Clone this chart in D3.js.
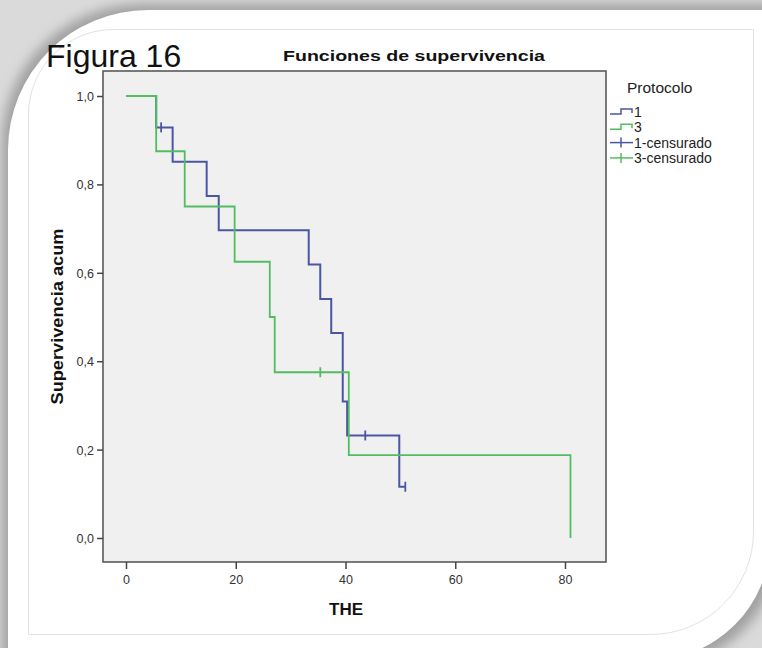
<!DOCTYPE html>
<html><head><meta charset="utf-8">
<script src="https://cdn.jsdelivr.net/npm/d3@7"></script>
<style>html,body{margin:0;padding:0;background:#fff;}svg{display:block;font-family:"Liberation Sans",Arial,sans-serif;}</style>
</head><body>
<script>
// ---- data ----
const xTickValues = [0, 20, 40, 60, 80];
const yTickValues = [0, 0.2, 0.4, 0.6, 0.8, 1.0];
const yTickLabels = ["0,0", "0,2", "0,4", "0,6", "0,8", "1,0"];

const p1Times = [0, 5.5, 8.5, 14.7, 16.9, 33.3, 35.4, 37.4, 39.5, 40.3, 49.8];
const p1Surv  = [1.0, 0.929, 0.851, 0.774, 0.696, 0.619, 0.541, 0.464, 0.309, 0.232, 0.116];
const p1End = 50.9;
const p1CensorTimes = [6.4, 43.6, 50.9];
const p1CensorSurv  = [0.929, 0.232, 0.116];

const p3Times = [0, 5.5, 10.7, 19.8, 26.2, 27.1, 40.6, 81];
const p3Surv  = [1.0, 0.875, 0.75, 0.625, 0.5, 0.375, 0.1875, 0.0];
const p3End = 81;
const p3CensorTimes = [35.4];
const p3CensorSurv  = [0.375];

const legendLabels = ["1", "3", "1-censurado", "3-censurado"];
const blue = "#4b56a3", green = "#52bd60";

const W = 762, H = 648;
const svg = d3.select("body").append("svg").attr("width", W).attr("height", H);
const defs = svg.append("defs");
const f = defs.append("filter").attr("id","sh").attr("x","-10%").attr("y","-10%").attr("width","120%").attr("height","120%");
f.append("feGaussianBlur").attr("stdDeviation", 6);

function cardPath(l, t, r, b, rtl, rbr) {
  return `M${l},${t+rtl} A${rtl},${rtl} 0 0 1 ${l+rtl},${t} L${r},${t} L${r},${b-rbr} A${rbr},${rbr} 0 0 1 ${r-rbr},${b} L${l},${b} Z`;
}
svg.append("rect").attr("width", W).attr("height", H).attr("fill", "#dadada");
svg.append("path").attr("d", cardPath(2, 4, 778, 666, 140, 120)).attr("fill", "#a0a0a0").attr("filter","url(#sh)");
svg.append("path").attr("d", cardPath(8, 10, 770, 660, 140, 120)).attr("fill", "#ffffff");
svg.append("path").attr("d", cardPath(28.5, 29.5, 753.5, 634.5, 85, 103)).attr("fill", "none").attr("stroke", "#e2e2e2");

// plot
const L = 103, T = 71, R = 606, B = 562;
const x = d3.scaleLinear().domain([0, 80]).range([126, 565]);
const y = d3.scaleLinear().domain([0, 1]).range([538, 96]);

svg.append("rect").attr("x", L).attr("y", T).attr("width", R-L).attr("height", B-T)
  .attr("fill", "#f0f0f0").attr("stroke", "#5a5a5a").attr("stroke-width", 1.6);

const yAxis = svg.append("g").attr("transform", `translate(${L},0)`)
  .call(d3.axisLeft(y).tickValues(yTickValues).tickSize(6).tickFormat((d,i)=>yTickLabels[i]));
const xAxis = svg.append("g").attr("transform", `translate(0,${B})`)
  .call(d3.axisBottom(x).tickValues(xTickValues).tickSize(7).tickFormat(d3.format("d")));
[yAxis, xAxis].forEach(g => {
  g.select(".domain").remove();
  g.selectAll("line").attr("stroke", "#444").attr("stroke-width", 1.5);
  g.selectAll("text").attr("fill", "#333").style("font-size", "12.5px").style("font-family", "'Liberation Sans',Arial,sans-serif");
});
yAxis.selectAll("text").attr("x", -9).attr("dy", "0.36em");
xAxis.selectAll("text").attr("y", 13);

function stepData(times, surv, end) {
  const pts = times.map((t, i) => [t, surv[i]]);
  if (end > times[times.length-1]) pts.push([end, surv[surv.length-1]]);
  return pts;
}
const line = d3.line().x(d => x(d[0])).y(d => y(d[1])).curve(d3.curveStepAfter);
svg.append("path").attr("d", line(stepData(p1Times, p1Surv, p1End)))
  .attr("fill", "none").attr("stroke", blue).attr("stroke-width", 2);
svg.append("path").attr("d", line(stepData(p3Times, p3Surv, p3End)))
  .attr("fill", "none").attr("stroke", green).attr("stroke-width", 1.8);

function censor(times, surv, color) {
  svg.append("g").selectAll("line").data(times).join("line")
    .attr("x1", d => x(d)).attr("x2", d => x(d))
    .attr("y1", (d, i) => y(surv[i]) - 5).attr("y2", (d, i) => y(surv[i]) + 5)
    .attr("stroke", color).attr("stroke-width", 1.8);
}
censor(p1CensorTimes, p1CensorSurv, blue);
censor(p3CensorTimes, p3CensorSurv, green);

svg.append("text").attr("x", 46).attr("y", 67).text("Figura 16")
  .style("font-size", "32px").attr("fill", "#111");
svg.append("text").attr("x", 414).attr("y", 61).attr("text-anchor", "middle")
  .text("Funciones de supervivencia").style("font-size", "15px").style("font-weight", "bold").attr("fill", "#111")
  .attr("textLength", 262).attr("lengthAdjust", "spacingAndGlyphs");
svg.append("text").attr("x", 346).attr("y", 615).attr("text-anchor", "middle")
  .text("THE").style("font-size", "17px").style("font-weight", "bold").attr("fill", "#111");
svg.append("text").attr("transform", `translate(63,${(T+B)/2}) rotate(-90)`).attr("text-anchor", "middle")
  .text("Supervivencia acum").style("font-size", "16px").style("font-weight", "bold").attr("fill", "#111")
  .attr("textLength", 176).attr("lengthAdjust", "spacingAndGlyphs");

svg.append("text").attr("x", 627).attr("y", 93).text("Protocolo").style("font-size", "15.5px").attr("fill", "#222");
const legendColors = [blue, green, blue, green];
const lg = svg.append("g");
legendLabels.forEach((lab, i) => {
  const cy = 112 + i * 15.3;
  if (i < 2) {
    lg.append("path").attr("d", `M610,${cy+2} H621 V${cy-3} H632 V${cy+1}`)
      .attr("fill", "none").attr("stroke", legendColors[i]).attr("stroke-width", 1.5);
  } else {
    lg.append("line").attr("x1", 610).attr("x2", 633).attr("y1", cy).attr("y2", cy)
      .attr("stroke", legendColors[i]).attr("stroke-width", 1.5);
    lg.append("line").attr("x1", 621).attr("x2", 621).attr("y1", cy-5).attr("y2", cy+5)
      .attr("stroke", legendColors[i]).attr("stroke-width", 1.5);
  }
  lg.append("text").attr("x", 634).attr("y", cy + 5).text(lab).style("font-size", "14px").attr("fill", "#222");
});
</script>
</body></html>
